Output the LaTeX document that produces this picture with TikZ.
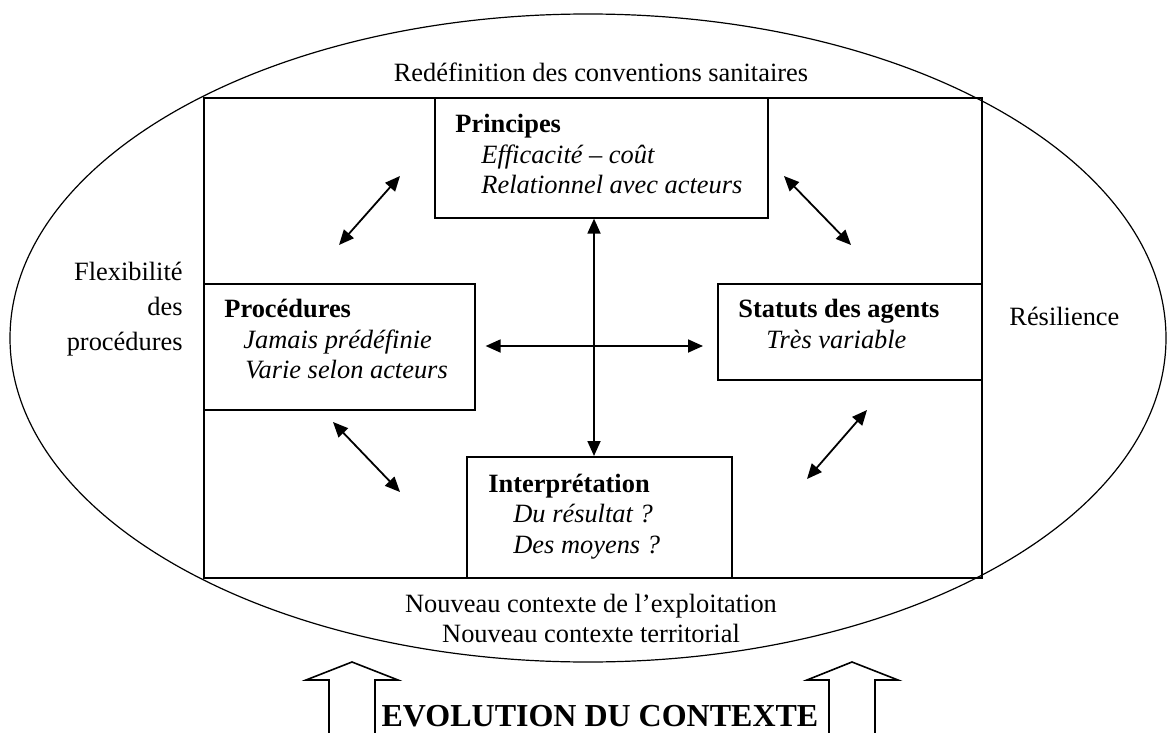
\documentclass[tikz,border=0pt]{standalone}
\usepackage{fontspec}
\setmainfont{Liberation Serif}
\usetikzlibrary{arrows.meta,shapes.geometric}
\def\pxu{0.5pt}

\begin{document}
\begin{tikzpicture}[x=0.5pt, y=-0.5pt,
  every node/.style={inner sep=0pt, font=\fontsize{13.2}{15}\selectfont},
  cadre/.style={draw, line width=0.8pt, anchor=north west},
  lien/.style={line width=0.9pt,
    {Triangle[length=7.5pt,width=6.5pt]}-{Triangle[length=7.5pt,width=6.5pt]}},
  grosfleche/.style={line width=0.8pt, line join=miter}]
\useasboundingbox (0,0) rectangle (1167,733);

% Outer ellipse and frame
\node[draw, ellipse, line width=0.6pt, minimum width=1156*\pxu, minimum height=648*\pxu] (contexte) at (588,338) {};
\node[cadre, minimum width=778*\pxu, minimum height=480*\pxu] (cadre) at (203,97) {};

% Boxes
\node[cadre, minimum width=333*\pxu, minimum height=120*\pxu] (princ) at (434,97) {};
\node[cadre, minimum width=271*\pxu, minimum height=126*\pxu] (proc) at (203,283) {};
\node[cadre, minimum width=264*\pxu, minimum height=96*\pxu] (stat) at (717,283) {};
\node[cadre, minimum width=265*\pxu, minimum height=121*\pxu] (interp) at (466,456) {};

% Box texts
\node[anchor=base west] (princT) at (455,133) {\textbf{Principes}};
\node[anchor=base west] (princA) at (481,163) {\textit{Efficacité – coût}};
\node[anchor=base west] (princB) at (481,193) {\textit{Relationnel avec acteurs}};
\node[anchor=base west] (procT) at (224,317) {\textbf{Procédures}};
\node[anchor=base west] (procA) at (243,348) {\textit{Jamais prédéfinie}};
\node[anchor=base west] (procB) at (245,378) {\textit{Varie selon acteurs}};
\node[anchor=base west] (statT) at (738,317) {\textbf{Statuts des agents}};
\node[anchor=base west] (statA) at (766,348) {\textit{Très variable}};
\node[anchor=base west] (interpT) at (488,492) {\textbf{Interprétation}};
\node[anchor=base west] (interpA) at (513,522) {\textit{Du résultat ?}};
\node[anchor=base west] (interpB) at (513,553) {\textit{Des moyens ?}};

% Texts around the frame
\node[anchor=base] (redef) at (601,82) {Redéfinition des conventions sanitaires};
\foreach \t/\y in {Flexibilité/280, des/315, procédures/350}
  \node[anchor=base east] (flex\y) at (183,\y) {\t};
\node[anchor=base west] (resil) at (1009,325) {Résilience};
\node[anchor=base] (nouvA) at (591,612) {Nouveau contexte de l’exploitation};
\node[anchor=base] (nouvB) at (591,642) {Nouveau contexte territorial};
\node[anchor=base, font=\fontsize{16}{19}\selectfont\bfseries] (evol) at (600,726) {EVOLUTION DU CONTEXTE};

% Central cross
\coordinate (croix) at (594,346);
\draw[lien] (princ.south -| croix) -- (interp.north -| croix);
\draw[lien, shorten <=5pt, shorten >=7pt] (proc.east |- croix) -- (stat.west |- croix);

% Diagonal arrows
\foreach \n/\p/\q in {hg/{339,245}/{400,176}, hd/{784,176}/{851,245},
                      bg/{333,422}/{400,492}, bd/{867,410}/{807,479}} {
  \coordinate (\n a) at (\p);
  \coordinate (\n b) at (\q);
  \draw[lien] (\n a) -- (\n b);
}

% Hollow arrows
\draw[grosfleche] (329,740) -- (329,680) -- (306,680) -- (352,662) -- (398,680) -- (375,680) -- (375,740);
\draw[grosfleche] (829,740) -- (829,680) -- (807,680) -- (852,662) -- (898,680) -- (875,680) -- (875,740);

\end{tikzpicture}
\end{document}
